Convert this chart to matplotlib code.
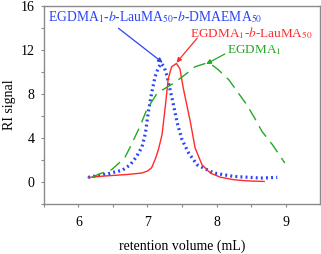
import matplotlib
matplotlib.use("Agg")
import matplotlib.pyplot as plt

plt.rcParams['font.family'] = ['Liberation Serif', 'DejaVu Serif']
plt.rcParams['mathtext.fontset'] = 'stix'

# Data
blue_x = [6.14, 6.31, 6.43, 6.55, 6.63, 6.75, 6.84, 6.92, 6.97, 7.01, 7.06, 7.11, 7.16, 7.20,
          7.24, 7.28, 7.36, 7.43, 7.50, 7.60, 7.72, 7.96, 8.25, 8.64, 8.88]
blue_y = [0.42, 0.62, 0.75, 0.95, 1.05, 1.57, 2.3, 3.2, 4.45, 6.3, 8.1, 9.6, 10.45, 10.8,
          10.5, 9.7, 7.5, 5.4, 3.85, 2.6, 1.57, 0.82, 0.51, 0.36, 0.42]

red_x = [6.14, 6.43, 6.70, 6.92, 7.00, 7.06, 7.12, 7.16, 7.21, 7.26, 7.30, 7.35, 7.42,
         7.47, 7.52, 7.57, 7.62, 7.69, 7.79, 7.91, 8.05, 8.25, 8.45, 8.69]
red_y = [0.42, 0.57, 0.68, 0.82, 1.0, 1.3, 2.2, 3.0, 4.3, 7.0, 9.4, 10.5, 10.8,
         10.3, 8.5, 7.0, 5.5, 3.1, 1.57, 0.82, 0.45, 0.21, 0.1, 0.05]

green_x = [6.20, 6.31, 6.48, 6.67, 6.75, 6.89, 6.99, 7.14, 7.38, 7.55, 7.69, 7.84,
           7.95, 8.03, 8.18, 8.30, 8.42, 8.54, 8.66, 8.81, 8.99]
green_y = [0.45, 0.75, 1.12, 2.2, 3.2, 5.05, 6.6, 8.1, 9.0, 9.8, 10.5, 10.8,
           10.6, 10.2, 9.3, 8.24, 7.2, 5.96, 4.6, 3.4, 1.73]

labels = [r'EGDMA$_1$-$b$-LauMA$_{50}$-$b$-DMAEMA$_{50}$',
          r'EGDMA$_1$-$b$-LauMA$_{50}$',
          r'EGDMA$_1$']
xticks = [6, 7, 8, 9]
yticks = [0, 4, 8, 12, 16]

blue = '#2a45f5'
red = '#ff2a2a'
green = '#22a822'

fig = plt.figure(figsize=(3.21, 2.54), dpi=100)
ax = fig.add_axes([0.137, 0.197, 0.860, 0.778])

ax.plot(blue_x, blue_y, color=blue, lw=2.3, linestyle=(0, (0.6, 1.0)), dash_capstyle='butt')
ax.plot(red_x, red_y, color=red, lw=1.0)
ax.plot(green_x, green_y, color=green, lw=1.0, linestyle=(0, (9, 5)))

arrow = dict(arrowstyle='-|>', lw=0.9, mutation_scale=7, shrinkA=0, shrinkB=0)
ax.text(5.56, 15.0, labels[0], color=blue, fontsize=9.8, ha='left', va='center')
ax.annotate('', xy=(7.22, 10.87), xytext=(6.58, 14.0), arrowprops=dict(arrow, color=blue))
ax.text(7.62, 13.55, labels[1], color=red, fontsize=9.5, ha='left', va='center')
ax.annotate('', xy=(7.42, 10.87), xytext=(7.72, 13.1), arrowprops=dict(arrow, color=red))
ax.text(8.15, 12.0, labels[2], color=green, fontsize=9.5, ha='left', va='center')
ax.annotate('', xy=(7.85, 10.75), xytext=(8.12, 11.66), arrowprops=dict(arrow, color=green))

ax.set_xlim(5.5, 9.5)
ax.set_ylim(-2, 16)
ax.set_xticks(xticks)
ax.set_xticks([5.5, 6.5, 7.5, 8.5], minor=True)
ax.set_yticks(yticks)
ax.set_yticks([-2, 2, 6, 10, 14], minor=True)
for s in ax.spines.values():
    s.set_color('#8a8a8a')
    s.set_linewidth(1.0)
ax.tick_params(which='both', direction='out', length=2.5, width=0.8, color='#8a8a8a',
               labelsize=10)
ax.tick_params(axis='x', pad=6)
ax.tick_params(axis='y', pad=4.5)
ax.set_xlabel('retention volume (mL)', fontsize=10, labelpad=8)
ax.set_ylabel('RI signal', fontsize=10, labelpad=3)

fig.savefig('out.png', dpi=100)
